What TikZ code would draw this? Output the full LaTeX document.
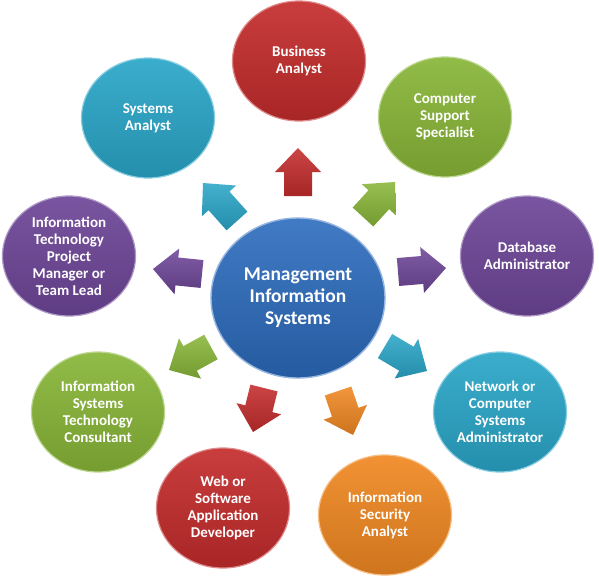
\documentclass[tikz,border=0pt]{standalone}
\usepackage{fontspec}
\setmainfont{Carlito}
\usetikzlibrary{shapes.geometric,calc}
\definecolor{cred}{RGB}{196,44,44}
\definecolor{ccyan}{RGB}{42,166,200}
\definecolor{cgreen}{RGB}{136,182,56}
\definecolor{cpurple}{RGB}{110,70,152}
\definecolor{corange}{RGB}{240,136,34}
\definecolor{cblue}{RGB}{44,108,190}
\tikzset{
  bub/.style={ellipse, minimum width=133pt, minimum height=120pt, inner sep=0pt,
    align=center, text=white, font=\bfseries\fontsize{15}{17}\selectfont,
    top color=#1!92!white, bottom color=#1!86!black, draw=#1!55!white, line width=1.2pt},
  hub/.style={ellipse, minimum width=174pt, minimum height=160pt, inner sep=0pt,
    align=center, text=white, font=\bfseries\fontsize{19.5}{22}\selectfont,
    top color=#1!90!white, bottom color=#1!84!black, draw=#1!50!white, line width=1.4pt},
  barrow/.style={top color=#1!88!white, bottom color=#1!85!black}
}
\newcommand\blockarrow[3]{%
  \coordinate (hb) at ($(#2)!24pt!(#1)$);
  \path[barrow=#3] ($(#1)!14pt!90:(#2)$) -- ($(hb)!14pt!-90:(#1)$) -- ($(hb)!23pt!-90:(#1)$)
    -- (#2) -- ($(hb)!23pt!90:(#1)$) -- ($(hb)!14pt!90:(#1)$) -- ($(#1)!14pt!-90:(#2)$) -- cycle;
}
\begin{document}
\begin{tikzpicture}[x=1pt,y=-1pt]
\useasboundingbox[fill=white] (0,0) rectangle (599,579);
% hub
\node[hub=cblue] (mis) at (298,298) {Management\\Information\\Systems};
% satellites
\node[bub=cred] (ba) at (299,61) {Business\\Analyst};
\node[bub=ccyan] (sa) at (148,118) {Systems\\Analyst};
\node[bub=cgreen] (css) at (445,117) {Computer\\Support\\Specialist};
\node[bub=cpurple] (itpm) at (69,256) {Information\\Technology\\Project\\Manager or\\Team Lead};
\node[bub=cpurple] (dba) at (527,256) {Database\\Administrator};
\node[bub=cgreen] (istc) at (98,412) {Information\\Systems\\Technology\\Consultant};
\node[bub=ccyan] (ncsa) at (500,412) {Network or\\Computer\\Systems\\Administrator};
\node[bub=cred] (wsad) at (223,508) {Web or\\Software\\Application\\Developer};
\node[bub=corange] (isa) at (385,515) {Information\\Security\\Analyst};
% arrow end points
\coordinate (a1s) at (298,196); \coordinate (a1e) at (298,148);
\coordinate (a2s) at (237,221); \coordinate (a2e) at (203,183);
\coordinate (a3s) at (363,217); \coordinate (a3e) at (395,182);
\coordinate (a4s) at (398,272); \coordinate (a4e) at (446,268);
\coordinate (a5s) at (202,274); \coordinate (a5e) at (153,269);
\coordinate (a6s) at (211,347); \coordinate (a6e) at (169,370);
\coordinate (a7s) at (264,388); \coordinate (a7e) at (253,432);
\coordinate (a8s) at (338,391); \coordinate (a8e) at (353,435);
\coordinate (a9s) at (385,346); \coordinate (a9e) at (427,371);
\blockarrow{a1s}{a1e}{cred}
\blockarrow{a2s}{a2e}{ccyan}
\blockarrow{a3s}{a3e}{cgreen}
\blockarrow{a4s}{a4e}{cpurple}
\blockarrow{a5s}{a5e}{cpurple}
\blockarrow{a6s}{a6e}{cgreen}
\blockarrow{a7s}{a7e}{cred}
\blockarrow{a8s}{a8e}{corange}
\blockarrow{a9s}{a9e}{ccyan}
\end{tikzpicture}
\end{document}
